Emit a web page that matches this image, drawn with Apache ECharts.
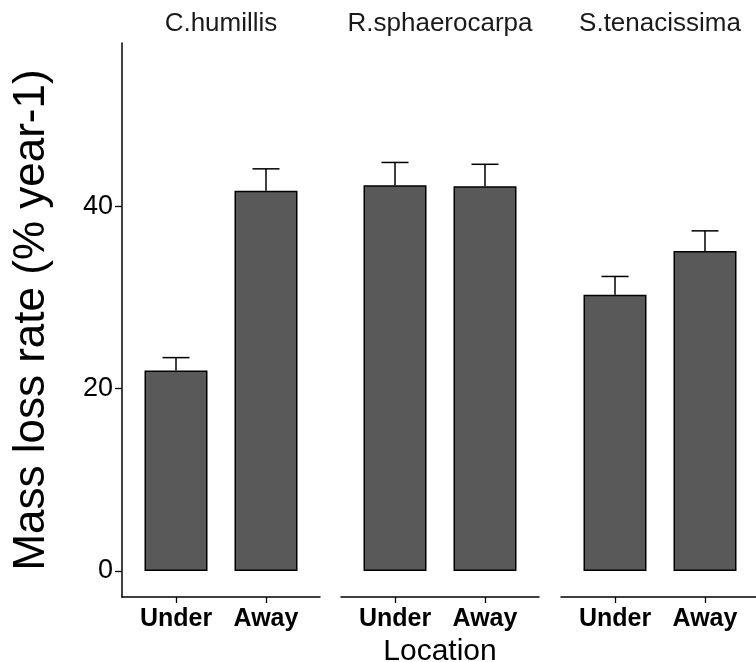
<!DOCTYPE html>
<html>
<head>
<meta charset="utf-8">
<script src="https://cdn.jsdelivr.net/npm/echarts@6/dist/echarts.min.js"></script>
<style>html,body{margin:0;padding:0;background:#fff}#c{width:756px;height:662px}</style>
</head>
<body>
<div id="c"></div>
<script>
const facets = ['C.humillis', 'R.sphaerocarpa', 'S.tenacissima'];
const locations = ['Under', 'Away'];
const meanCH = [22.0, 41.7];
const upperCH = [23.4, 44.1];
const meanRS = [42.3, 42.2];
const upperRS = [44.8, 44.6];
const meanST = [30.3, 35.1];
const upperST = [32.3, 37.3];
const yTicks = [0, 20, 40];
const xTicks = [1, 2];

const means = [meanCH, meanRS, meanST];
const uppers = [upperCH, upperRS, upperST];

const FONT = 'Liberation Sans, Arial, sans-serif';
const gridLeft = [122, 341, 561];
const gridW = 198, gridTop = 43, gridH = 554;

const chart = echarts.init(document.getElementById('c'), null, {renderer: 'canvas'});

const grids = [], xAxes = [], yAxes = [], series = [], graphics = [];
for (let i = 0; i < 3; i++) {
  grids.push({left: gridLeft[i], top: gridTop, width: gridW, height: gridH, containLabel: false, outerBoundsMode: 'none'});
  xAxes.push({
    type: 'value', gridIndex: i, min: 0.4, max: 2.6,
    splitLine: {show: false},
    axisLine: {show: true, onZero: false, lineStyle: {color: '#000', width: 1.5}},
    axisTick: {show: true, customValues: xTicks, length: 6, lineStyle: {color: '#000', width: 1.3}},
    axisLabel: {show: true, customValues: xTicks, margin: 10,
      formatter: v => locations[Math.round(v) - 1] || '',
      color: '#000', fontFamily: FONT, fontWeight: 'bold', fontSize: 25},
    name: i === 1 ? 'Location' : '', nameLocation: 'middle', nameGap: 34,
    nameTextStyle: {color: '#000', fontFamily: FONT, fontSize: 30}
  });
  yAxes.push({
    type: 'value', gridIndex: i, min: -2.85, max: 57.9,
    splitLine: {show: false},
    axisLine: {show: i === 0, onZero: false, lineStyle: {color: '#000', width: 1.5}},
    axisTick: {show: i === 0, customValues: yTicks, length: 7, lineStyle: {color: '#000', width: 1.3}},
    axisLabel: {show: i === 0, customValues: yTicks, margin: 9, color: '#000', fontFamily: FONT, fontSize: 27},
    name: i === 0 ? 'Mass loss rate (% year-1)' : '', nameLocation: 'middle', nameGap: 68,
    nameTextStyle: {color: '#000', fontFamily: FONT, fontSize: 44}
  });
  series.push({
    type: 'bar', xAxisIndex: i, yAxisIndex: i, barWidth: 63,
    itemStyle: {color: '#595959', borderColor: '#000', borderWidth: 1.5},
    data: xTicks.map((x, k) => [x, means[i][k]]),
    z: 2
  });
  series.push({
    type: 'custom', xAxisIndex: i, yAxisIndex: i,
    data: xTicks.map((x, k) => [x, means[i][k], uppers[i][k]]),
    renderItem: function (params, api) {
      const x = api.value(0);
      const p0 = api.coord([x, api.value(1)]);
      const p1 = api.coord([x, api.value(2)]);
      const hw = api.size([0.15, 0])[0];
      const st = {stroke: '#000', lineWidth: 1.5, fill: null};
      return {type: 'group', children: [
        {type: 'line', shape: {x1: p0[0], y1: p0[1], x2: p1[0], y2: p1[1]}, style: st},
        {type: 'line', shape: {x1: p1[0] - hw, y1: p1[1], x2: p1[0] + hw, y2: p1[1]}, style: st}
      ]};
    },
    z: 1
  });
  graphics.push({
    type: 'text', x: gridLeft[i] + gridW / 2, y: 24,
    style: {text: facets[i], fill: '#1a1a1a', font: '26px ' + FONT, textAlign: 'center', textVerticalAlign: 'middle'}
  });
}

chart.setOption({
  animation: false,
  backgroundColor: '#fff',
  grid: grids, xAxis: xAxes, yAxis: yAxes, series: series, graphic: graphics
});
</script>
</body>
</html>
